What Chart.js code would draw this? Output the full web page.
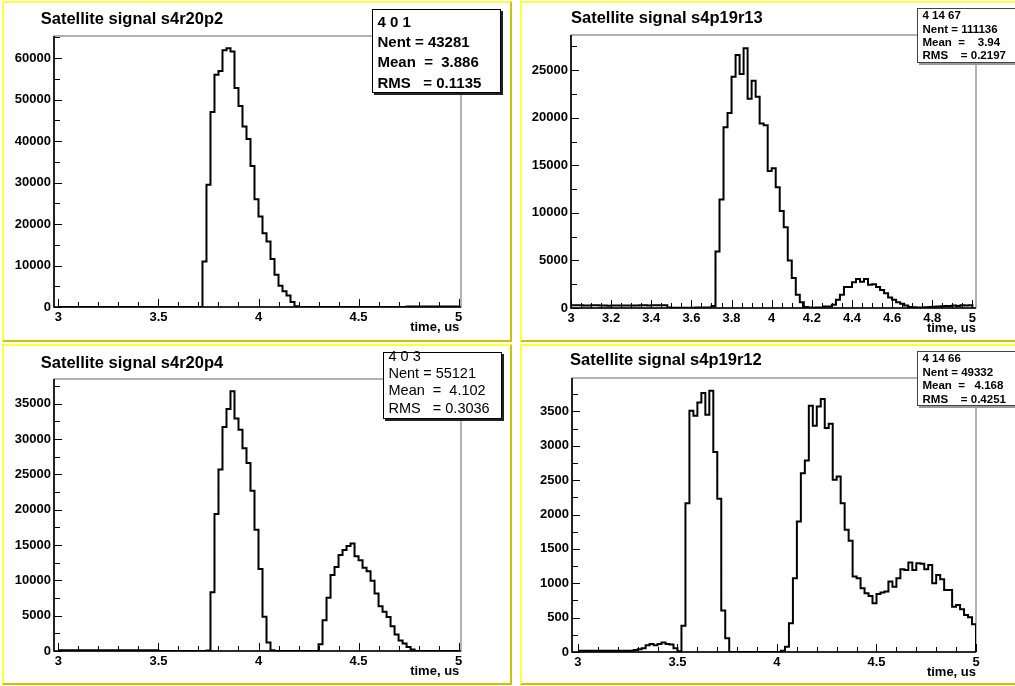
<!DOCTYPE html>
<html>
<head>
<meta charset="utf-8">
<script src="https://cdn.jsdelivr.net/npm/chart.js@4.4.0/dist/chart.umd.min.js"></script>
<style>
  html, body { margin: 0; padding: 0; background: #fff; }
  #page { position: relative; width: 1015px; height: 686px; overflow: hidden; background: #fff; }
  .pad { position: absolute; box-sizing: border-box; border: 2px solid; border-color: #ffff44 #c8c400 #c8c400 #ffff44; background: #fff; }
  canvas { position: absolute; }
  .stats { position: absolute; box-sizing: border-box; background: #fff; z-index: 5;
           font-family: "Liberation Sans", Arial, sans-serif; color: #000; }
  .stats div { position: absolute; white-space: pre; }
</style>
</head>
<body>
<div id="page">
  <div class="pad" style="left:2px;top:1px;width:510px;height:341px"></div>
  <div class="pad" style="left:520px;top:1px;width:500px;height:341px"></div>
  <div class="pad" style="left:2px;top:344px;width:510px;height:341px"></div>
  <div class="pad" style="left:520px;top:344px;width:500px;height:341px"></div>
  <canvas id="c1" width="515" height="343" style="left:0;top:0"></canvas>
  <canvas id="c2" width="500" height="343" style="left:515px;top:0"></canvas>
  <canvas id="c3" width="515" height="343" style="left:0;top:343px"></canvas>
  <canvas id="c4" width="500" height="343" style="left:515px;top:343px"></canvas>
</div>
<script>
// histogram binning: 100 bins of 0.02 us starting at 3.00 us
const binStart = 3.0;
const binWidth = 0.02;

const titles = ['Satellite signal s4r20p2', 'Satellite signal s4p19r13',
                'Satellite signal s4r20p4', 'Satellite signal s4p19r12'];
const axisTitle = 'time, us';

// counts per bin
const countsA = [
  0, 0, 0, 0, 0, 0, 0, 0, 0, 0,
  0, 0, 0, 0, 0, 0, 0, 0, 0, 0,
  0, 0, 0, 0, 0, 0, 0, 0, 0, 0,
  0, 0, 0, 0, 0, 0, 11000, 29500, 47000, 56000,
  56900, 61900, 62400, 61600, 52800, 48500, 43500, 40500, 34000, 26000,
  21800, 17800, 15800, 11600, 7800, 5100, 3800, 2800, 1200, 200,
  0, 0, 0, 0, 0, 0, 0, 0, 0, 0,
  0, 0, 0, 0, 0, 0, 0, 0, 0, 0,
  0, 0, 0, 0, 0, 0, 0, 120, 120, 120,
  120, 120, 120, 120, 120, 120, 120, 120, 120, 120
];
const countsB = [
  300, 300, 280, 260, 260, 280, 300, 260, 250, 240,
  250, 260, 260, 270, 250, 250, 260, 290, 280, 270,
  300, 300, 280, 300, 40, 30, 20, 20, 30, 20,
  30, 40, 30, 50, 60, 200, 5950, 11400, 19000, 20500,
  24300, 26600, 24600, 27300, 22000, 23900, 22200, 19400, 19200, 14400,
  14700, 12700, 10200, 8500, 5000, 3150, 1400, 600, 100, 50,
  30, 40, 60, 150, 150, 350, 875, 1400, 2200, 2200,
  2700, 3050, 2750, 3050, 2450, 2500, 2200, 1900, 1550, 1100,
  875, 600, 450, 250, 100, 80, 60, 60, 80, 100,
  120, 150, 180, 200, 200, 250, 220, 300, 250, 280
];
const countsC = [
  100, 100, 100, 100, 100, 100, 100, 100, 100, 100,
  100, 100, 100, 100, 100, 100, 100, 100, 100, 100,
  100, 100, 100, 100, 100, 0, 0, 0, 0, 0,
  0, 0, 0, 0, 0, 0, 0, 80, 8300, 19400,
  25700, 31700, 34250, 36750, 32900, 31300, 28700, 26600, 22700, 17150,
  11600, 4850, 1200, 100, 0, 0, 0, 0, 0, 0,
  0, 0, 0, 0, 0, 950, 4350, 7550, 10750, 11900,
  13600, 14300, 14850, 15200, 13400, 12850, 11800, 11300, 9950, 8150,
  6350, 5550, 4800, 3500, 2350, 1500, 1050, 550, 200, 0,
  0, 0, 0, 0, 0, 0, 0, 0, 0, 0
];
const countsD = [
  20, 20, 20, 20, 20, 20, 20, 20, 20, 20,
  20, 20, 20, 20, 30, 40, 55, 100, 115, 100,
  115, 140, 115, 110, 55, 10, 383, 2165, 3510, 3437,
  3631, 3767, 3451, 3801, 2908, 2228, 602, 199, 0, 0,
  0, 0, 0, 0, 0, 0, 0, 0, 0, 0,
  0, 20, 78, 417, 1073, 1898, 2602, 2786, 3583, 3291,
  3573, 3680, 3257, 3320, 2505, 2553, 2165, 1777, 1617, 1097,
  1073, 927, 854, 816, 709, 845, 864, 879, 1024, 951,
  1073, 1204, 1194, 1301, 1194, 1291, 1282, 1204, 1267, 1000,
  1121, 1058, 903, 903, 660, 684, 621, 539, 505, 403
];

// tick labels
const xTicksA = [3, 3.5, 4, 4.5, 5];
const xTicksB = [3, 3.2, 3.4, 3.6, 3.8, 4, 4.2, 4.4, 4.6, 4.8, 5];
const yTicksA = [0, 10000, 20000, 30000, 40000, 50000, 60000];
const yTicksB = [0, 5000, 10000, 15000, 20000, 25000];
const yTicksC = [0, 5000, 10000, 15000, 20000, 25000, 30000, 35000];
const yTicksD = [0, 500, 1000, 1500, 2000, 2500, 3000, 3500];

// stats boxes
const statsA = ['4 0 1', 'Nent = 43281', 'Mean  =  3.886', 'RMS   = 0.1135'];
const statsB = ['4 14 67', 'Nent = 111136', 'Mean  =    3.94', 'RMS    = 0.2197'];
const statsC = ['4 0 3', 'Nent = 55121', 'Mean  =  4.102', 'RMS   = 0.3036'];
const statsD = ['4 14 66', 'Nent = 49332', 'Mean  =   4.168', 'RMS    = 0.4251'];

const FONT = '"Liberation Sans", Arial, sans-serif';

const panels = [
  { id: 'c1', counts: countsA, title: titles[0], xTicks: xTicksA, yTicks: yTicksA,
    xMin: 2.978, xMax: 5.012, yMax: 65350, xMinor: 0.1, yMinor: 5000,
    area: { l: 54, r: 461, t: 36, b: 307 }, titleAt: [40.7, 19.3], axInset: 1.7,
    stats: statsA, box: { x: 372, y: 9, w: 129, h: 84, size: 15, weight: 'bold', lines: [12.7, 32.7, 53.3, 73.7], tx: 4.5, border: '#000', shadow: '#222' } },
  { id: 'c2', counts: countsB, title: titles[1], xTicks: xTicksB, yTicks: yTicksB,
    xMin: 3.0, xMax: 5.018, yMax: 28700, xMinor: 0.05, yMinor: 2500,
    area: { l: 56, r: 461, t: 35, b: 308 }, titleAt: [56, 18.3], axInset: 0,
    stats: statsB, box: { x: 917, y: 8, w: 110, h: 55, size: 11.5, weight: 'bold', lines: [6.5, 20.5, 33.8, 47.2], tx: 4.5, border: '#444', shadow: '#999' } },
  { id: 'c3', counts: countsC, title: titles[2], xTicks: xTicksA, yTicks: yTicksC,
    xMin: 2.978, xMax: 5.012, yMax: 38500, xMinor: 0.1, yMinor: 2500,
    area: { l: 54, r: 461, t: 36, b: 308 }, titleAt: [40.7, 20.3], axInset: 1.7,
    stats: statsC, box: { x: 383, y: 352, w: 119, h: 67, size: 14.5, weight: 'normal', lines: [4.8, 21.8, 38.5, 56.5], tx: 4.5, border: '#000', shadow: '#222' } },
  { id: 'c4', counts: countsD, title: titles[3], xTicks: xTicksA, yTicks: yTicksD,
    xMin: 2.97, xMax: 5.0, yMax: 3986, xMinor: 0.1, yMinor: 250,
    area: { l: 57, r: 461, t: 35, b: 309 }, titleAt: [55, 17.7], axInset: 0,
    stats: statsD, box: { x: 917, y: 351, w: 110, h: 55, size: 11.5, weight: 'bold', lines: [6.8, 20.8, 33.5, 47.5], tx: 4.5, border: '#444', shadow: '#999' } }
];

const fmt = v => String(Math.round(v * 1000) / 1000);

// ROOT-like frame, inward tick marks, title and axis caption
const rootFrame = {
  id: 'rootFrame',
  beforeDatasetsDraw(chart, args, o) {
    const { ctx, chartArea: a, scales: { x, y } } = chart;
    ctx.save();
    ctx.strokeStyle = '#666';
    ctx.lineWidth = 1;
    ctx.strokeRect(a.left, a.top, a.right - a.left, a.bottom - a.top);

    ctx.strokeStyle = '#000';
    ctx.lineWidth = 1;
    ctx.beginPath();
    const nx = Math.round((x.max - 3) / o.xMinor);
    for (let i = 0; i <= nx; i++) {
      const v = 3 + i * o.xMinor;
      if (v > x.max + 1e-9) break;
      const major = o.xTicks.some(t => Math.abs(t - v) < 1e-6);
      const px = Math.round(x.getPixelForValue(v)) + 0.5;
      ctx.moveTo(px, a.bottom);
      ctx.lineTo(px, a.bottom - (major ? 8 : 5));
    }
    const ny = Math.floor(y.max / o.yMinor);
    for (let i = 0; i <= ny; i++) {
      const v = i * o.yMinor;
      const major = o.yTicks.includes(v);
      const py = Math.round(y.getPixelForValue(v)) + 0.5;
      ctx.moveTo(a.left, py);
      ctx.lineTo(a.left + (major ? 8 : 6), py);
    }
    ctx.stroke();

    ctx.lineWidth = 1.6;
    ctx.beginPath();
    ctx.moveTo(a.left, a.top);
    ctx.lineTo(a.left, a.bottom);
    ctx.lineTo(a.right, a.bottom);
    ctx.stroke();
    ctx.restore();
  },
  afterDraw(chart, args, o) {
    const { ctx, chartArea: a } = chart;
    ctx.save();
    ctx.fillStyle = '#000';
    ctx.textBaseline = 'middle';
    ctx.textAlign = 'left';
    ctx.font = 'bold 16.5px ' + FONT;
    ctx.fillText(o.title, o.titleAt[0], o.titleAt[1]);
    ctx.textAlign = 'right';
    ctx.font = 'bold 13px ' + FONT;
    ctx.fillText(axisTitle, a.right - o.axInset, a.bottom + 20.5);
    ctx.restore();
  }
};

panels.forEach(p => {
  const cv = document.getElementById(p.id);
  const W = cv.width, H = cv.height;
  const pts = p.counts.map((c, k) => ({ x: binStart + k * binWidth, y: c }));
  pts.push({ x: binStart + p.counts.length * binWidth, y: 0 });

  new Chart(cv, {
    type: 'line',
    data: {
      datasets: [{
        data: pts,
        stepped: 'before',
        borderColor: '#000',
        borderWidth: 2,
        borderJoinStyle: 'miter',
        pointRadius: 0,
        fill: false,
        tension: 0
      }]
    },
    options: {
      responsive: false,
      animation: false,
      devicePixelRatio: 1,
      layout: { padding: { left: 0, top: p.area.t, right: W - p.area.r, bottom: 0 } },
      plugins: {
        legend: { display: false },
        tooltip: { enabled: false },
        title: { display: false },
        rootFrame: p
      },
      scales: {
        x: {
          type: 'linear', min: p.xMin, max: p.xMax,
          grid: { display: false, drawTicks: false },
          border: { display: false },
          ticks: { color: '#000', font: { family: FONT, size: 13, weight: 'bold' }, padding: 3,
                   maxRotation: 0, autoSkip: false, callback: v => fmt(v) },
          afterBuildTicks: s => { s.ticks = p.xTicks.map(v => ({ value: v })); },
          afterFit: s => { s.height = H - p.area.b; }
        },
        y: {
          type: 'linear', min: 0, max: p.yMax,
          grid: { display: false, drawTicks: false },
          border: { display: false },
          ticks: { color: '#000', font: { family: FONT, size: 13, weight: 'bold' }, padding: 3,
                   autoSkip: false, callback: v => fmt(v) },
          afterBuildTicks: s => { s.ticks = p.yTicks.map(v => ({ value: v })); },
          afterFit: s => { s.width = p.area.l; }
        }
      }
    },
    plugins: [rootFrame]
  });

  // statistics box
  const b = p.box;
  const box = document.createElement('div');
  box.className = 'stats';
  box.style.cssText = `left:${b.x}px;top:${b.y}px;width:${b.w}px;height:${b.h}px;` +
    `border:1px solid ${b.border};box-shadow:2px 2px 0 ${b.shadow};` +
    `font-size:${b.size}px;font-weight:${b.weight};`;
  p.stats.forEach((t, i) => {
    const ln = document.createElement('div');
    const lh = Math.round(b.size * 1.2);
    ln.style.cssText = `left:${b.tx}px;top:${b.lines[i] - lh / 2 - 1}px;line-height:${lh}px;`;
    ln.textContent = t;
    box.appendChild(ln);
  });
  document.getElementById('page').appendChild(box);
});
</script>
</body>
</html>
